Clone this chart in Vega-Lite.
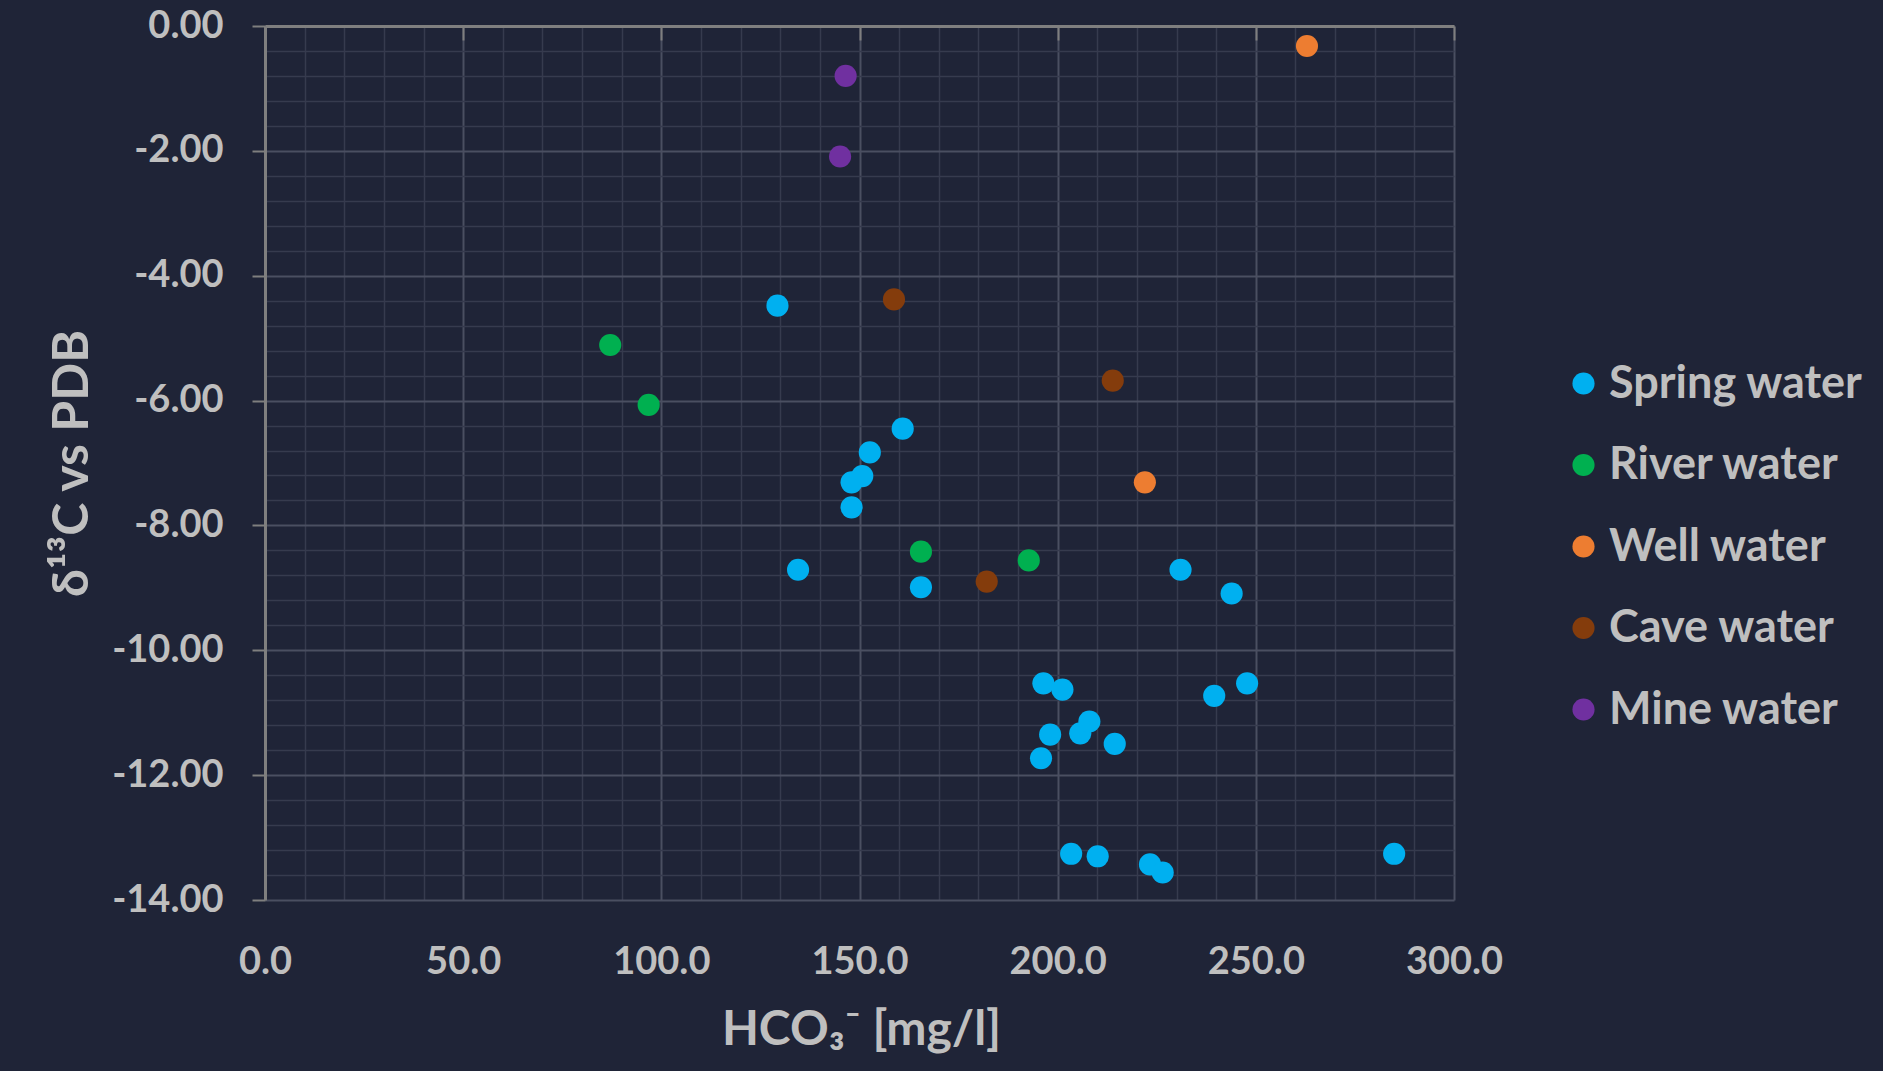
{
  "$schema": "https://vega.github.io/schema/vega-lite/v6.json",
  "autosize": {"type": "none"},
  "padding": {"left": 265, "top": 26, "right": 429, "bottom": 171},
  "width": 1189,
  "height": 874,
  "background": "#1F2437",
  "config": {
    "view": {"stroke": null},
    "font": "Lato",
    "axis": {"labelFont": "Lato", "titleFont": "Lato"},
    "legend": {"labelFont": "Lato"}
  },
  "data": {
    "values": [
      {"type": "Spring water", "hco3": 129.3, "d13c": -4.48},
      {"type": "Spring water", "hco3": 160.9, "d13c": -6.45},
      {"type": "Spring water", "hco3": 152.6, "d13c": -6.83},
      {"type": "Spring water", "hco3": 150.7, "d13c": -7.21},
      {"type": "Spring water", "hco3": 148.0, "d13c": -7.31},
      {"type": "Spring water", "hco3": 148.0, "d13c": -7.71},
      {"type": "Spring water", "hco3": 134.5, "d13c": -8.71},
      {"type": "Spring water", "hco3": 165.5, "d13c": -8.99},
      {"type": "Spring water", "hco3": 231.0, "d13c": -8.71},
      {"type": "Spring water", "hco3": 243.9, "d13c": -9.09},
      {"type": "Spring water", "hco3": 196.4, "d13c": -10.53},
      {"type": "Spring water", "hco3": 201.2, "d13c": -10.63},
      {"type": "Spring water", "hco3": 239.5, "d13c": -10.73},
      {"type": "Spring water", "hco3": 247.8, "d13c": -10.53},
      {"type": "Spring water", "hco3": 198.1, "d13c": -11.35},
      {"type": "Spring water", "hco3": 205.7, "d13c": -11.33},
      {"type": "Spring water", "hco3": 208.0, "d13c": -11.14},
      {"type": "Spring water", "hco3": 214.4, "d13c": -11.50},
      {"type": "Spring water", "hco3": 195.8, "d13c": -11.73},
      {"type": "Spring water", "hco3": 203.4, "d13c": -13.26},
      {"type": "Spring water", "hco3": 210.1, "d13c": -13.30},
      {"type": "Spring water", "hco3": 223.3, "d13c": -13.43},
      {"type": "Spring water", "hco3": 226.5, "d13c": -13.56},
      {"type": "Spring water", "hco3": 284.9, "d13c": -13.26},
      {"type": "River water", "hco3": 87.1, "d13c": -5.11},
      {"type": "River water", "hco3": 96.8, "d13c": -6.07},
      {"type": "River water", "hco3": 165.5, "d13c": -8.42},
      {"type": "River water", "hco3": 192.7, "d13c": -8.56},
      {"type": "Well water", "hco3": 262.9, "d13c": -0.32},
      {"type": "Well water", "hco3": 222.0, "d13c": -7.31},
      {"type": "Cave water", "hco3": 158.7, "d13c": -4.38},
      {"type": "Cave water", "hco3": 213.9, "d13c": -5.68},
      {"type": "Cave water", "hco3": 182.1, "d13c": -8.90},
      {"type": "Mine water", "hco3": 146.5, "d13c": -0.80},
      {"type": "Mine water", "hco3": 145.1, "d13c": -2.09}
    ]
  },
  "resolve": {"axis": {"x": "independent", "y": "independent"}},
  "layer": [
    {
      "mark": {"type": "point", "opacity": 0},
      "encoding": {
        "x": {
          "field": "hco3", "type": "quantitative",
          "scale": {"domain": [0, 300], "nice": false, "zero": false},
          "axis": {
            "values": [10,20,30,40,60,70,80,90,110,120,130,140,160,170,180,190,210,220,230,240,260,270,280,290],
            "grid": true, "gridColor": "#363B4E", "gridWidth": 1.5, "gridOpacity": 1,
            "labels": false, "ticks": false, "domain": false, "title": null
          }
        },
        "y": {
          "field": "d13c", "type": "quantitative",
          "scale": {"domain": [-14, 0], "nice": false, "zero": false},
          "axis": {
            "values": [-0.4,-0.8,-1.2,-1.6,-2.4,-2.8,-3.2,-3.6,-4.4,-4.8,-5.2,-5.6,-6.4,-6.8,-7.2,-7.6,-8.4,-8.8,-9.2,-9.6,-10.4,-10.8,-11.2,-11.6,-12.4,-12.8,-13.2,-13.6],
            "grid": true, "gridColor": "#363B4E", "gridWidth": 1.5, "gridOpacity": 1,
            "labels": false, "ticks": false, "domain": false, "title": null
          }
        }
      }
    },
    {
      "mark": {"type": "point", "opacity": 0},
      "encoding": {
        "x": {
          "field": "hco3", "type": "quantitative",
          "scale": {"domain": [0, 300], "nice": false, "zero": false},
          "axis": {
            "orient": "bottom", "offset": -874,
            "values": [0,50,100,150,200,250,300],
            "grid": false, "labels": false,
            "ticks": true, "tickSize": 14, "tickColor": "#7F7F7F", "tickWidth": 2,
            "domain": true, "domainColor": "#7F7F7F", "domainWidth": 3,
            "title": null
          }
        },
        "y": {
          "field": "d13c", "type": "quantitative",
          "scale": {"domain": [-14, 0], "nice": false, "zero": false},
          "axis": null
        }
      }
    },
    {
      "mark": {"type": "point", "filled": true, "opacity": 1, "size": 490, "strokeWidth": 0},
      "encoding": {
        "x": {
          "field": "hco3", "type": "quantitative",
          "scale": {"domain": [0, 300], "nice": false, "zero": false},
          "axis": {
            "orient": "bottom",
            "values": [0,50,100,150,200,250,300],
            "format": ".1f",
            "labelFlush": false, "labelOverlap": false,
            "grid": true, "gridColor": "#4A4F61", "gridWidth": 2, "gridOpacity": 1,
            "ticks": false, "tickSize": 0, "domain": false,
            "labelPadding": 43, "labelFontSize": 38, "labelFontWeight": "bold", "labelColor": "#BFBFBF",
            "title": "HCO₃⁻ [mg/l]",
            "titleFontSize": 48, "titleFontWeight": "bold", "titleColor": "#BFBFBF",
            "titleBaseline": "middle", "titleX": 596, "titleY": 130
          }
        },
        "y": {
          "field": "d13c", "type": "quantitative",
          "scale": {"domain": [-14, 0], "nice": false, "zero": false},
          "axis": {
            "orient": "left",
            "values": [0,-2,-4,-6,-8,-10,-12,-14],
            "labelExpr": "replace(format(datum.value, '.2f'), '−', '-')",
            "labelFlush": false, "labelOverlap": false,
            "grid": true, "gridColor": "#4A4F61", "gridWidth": 2, "gridOpacity": 1,
            "ticks": true, "tickSize": 13, "tickColor": "#7F7F7F", "tickWidth": 2,
            "domain": true, "domainColor": "#7F7F7F", "domainWidth": 3,
            "labelPadding": 29, "labelFontSize": 38, "labelFontWeight": "bold", "labelColor": "#BFBFBF",
            "title": "δ¹³C vs PDB",
            "titleFontSize": 50, "titleFontWeight": "bold", "titleColor": "#BFBFBF",
            "titleBaseline": "middle", "titleX": -193, "titleY": 437, "titleAngle": -90
          }
        },
        "color": {
          "field": "type", "type": "nominal",
          "scale": {
            "domain": ["Spring water", "River water", "Well water", "Cave water", "Mine water"],
            "range": ["#00B0F0", "#00B050", "#ED7D31", "#843C0C", "#7030A0"]
          },
          "legend": {
            "orient": "none", "legendX": 1296, "legendY": 335,
            "title": null, "padding": 0,
            "symbolType": "circle", "symbolSize": 490, "symbolStrokeWidth": 0,
            "labelFontSize": 45, "labelFontWeight": "bold", "labelColor": "#BFBFBF",
            "labelOffset": 3, "rowPadding": 35.5, "labelLimit": 400
          }
        }
      }
    }
  ]
}
